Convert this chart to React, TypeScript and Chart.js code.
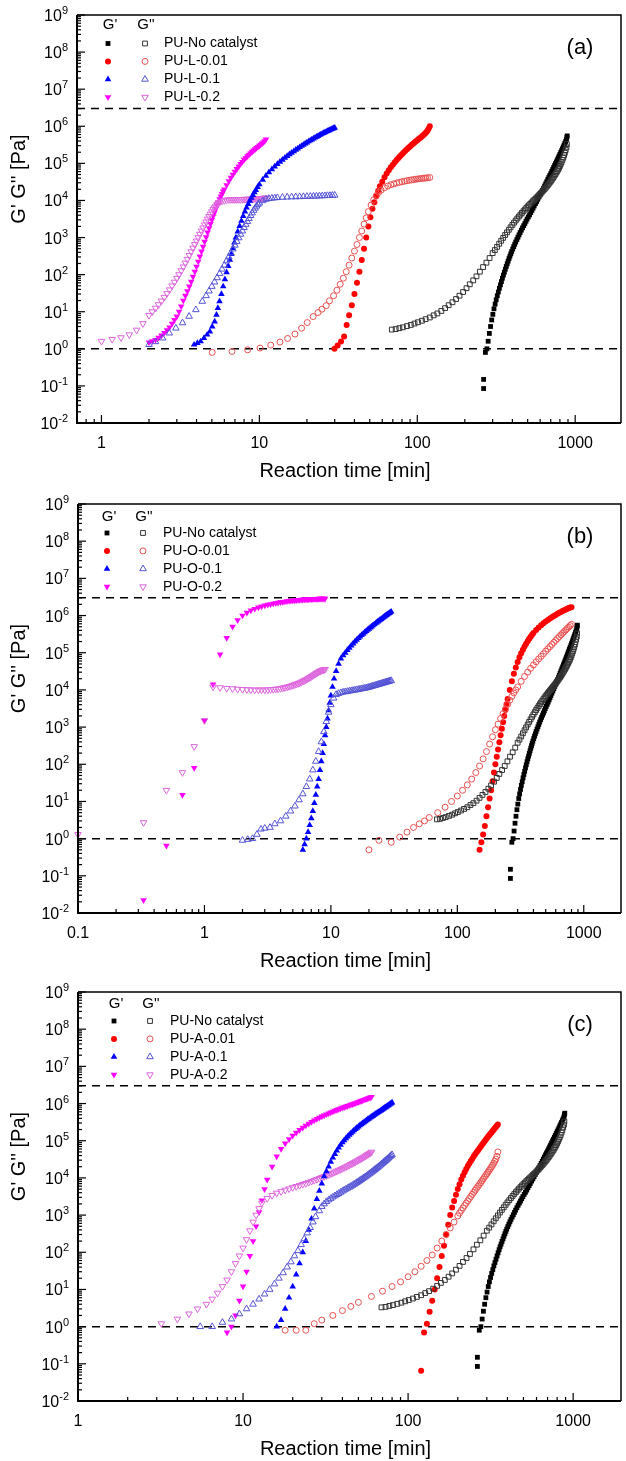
import React, { useEffect, useRef } from 'react';
import { Chart, registerables } from 'chart.js';
Chart.register(...registerables);

type P = [number, number];

const FONT = 'Arial, "Liberation Sans", sans-serif';

// ---------- shared reference series (no catalyst) ----------
const noCatGp: P[] = [[263,0.15],[263,0.085],[270,0.8],[276,1.0],[281,1.6],[286,2.6],[291,4],[296,6],[301,8.5],[306,12],[311,16],[316,21],[321,27],[326,34],[331,43],[336,53],[341,65],[346,80],[351,97],[356,117],[361,140],[366,166],[371,196],[376,230],[381,270],[386,315],[391,365],[396,420],[402,490],[408,570],[414,660],[420,760],[427,880],[434,1020],[441,1180],[448,1360],[456,1580],[464,1830],[472,2100],[480,2400],[488,2750],[496,3150],[505,3600],[514,4100],[523,4700],[532,5400],[541,6200],[550,7100],[560,8200],[570,9400],[580,10800],[590,12400],[600,14200],[610,16300],[620,18700],[630,21400],[640,24500],[650,28000],[660,32000],[670,36500],[680,41500],[690,47000],[700,53000],[710,60000],[720,68000],[730,77000],[740,87000],[750,98000],[760,110000],[770,124000],[780,139000],[790,156000],[800,175000],[810,196000],[820,220000],[830,247000],[840,277000],[850,310000],[860,347000],[870,390000],[880,440000],[885,500000],[890,550000]];
const noCatGpp: P[] = [[69,3.3],[73,3.4],[77,3.6],[81,3.8],[86,4.1],[91,4.4],[96,4.8],[101,5.2],[107,5.7],[113,6.3],[120,7],[127,8],[134,9],[142,10.5],[150,12.5],[158,15],[167,18],[176,22],[185,27],[195,34],[205,43],[215,55],[226,70],[237,90],[249,120],[261,160],[274,210],[287,280],[300,380],[310,460],[320,560],[330,680],[340,820],[350,980],[360,1170],[370,1380],[380,1620],[390,1890],[400,2190],[410,2520],[420,2880],[430,3270],[440,3690],[450,4140],[460,4620],[470,5130],[480,5670],[490,6240],[500,6840],[510,7470],[520,8130],[530,8820],[540,9550],[550,10300],[560,11100],[570,12000],[580,12900],[590,13900],[600,15000],[610,16200],[620,17500],[630,18900],[640,20400],[650,22000],[660,23800],[670,25800],[680,28000],[690,30400],[700,33000],[710,36000],[720,39300],[730,43000],[740,47000],[750,51500],[760,56500],[770,62000],[780,68500],[790,76000],[800,85000],[810,96000],[820,109000],[830,124000],[840,142000],[850,165000],[860,193000],[870,228000],[880,270000],[885,330000]];

// ---------- panel (a) ----------
const aRedGp: P[] = [[29.9,1.0],[31.3,1.23],[32.9,1.57],[34.4,2.15],[35.7,4.4],[37,8],[38.5,15],[40,30],[41.5,60],[43,120],[44.5,250],[46,500],[47.5,1000],[49,2000],[50.5,3500],[52,6000],[53.5,9000],[55,13000],[56.5,18000],[58,24000],[60,32000],[62,42000],[64,53000],[66,65000],[68,78000],[70,92000],[72,107000],[74,123000],[76,140000],[78,158000],[80,177000],[82,197000],[84,218000],[86,240000],[88,263000],[90,287000],[92,312000],[94,338000],[96,365000],[98,393000],[100,422000],[102,452000],[104,484000],[106,517000],[108,552000],[110,590000],[112,635000],[114,690000],[116,760000],[118,860000],[120,1000000]];
const aRedGpp: P[] = [[5.03,0.8],[6.71,0.85],[8.42,0.94],[10.1,1.05],[11.8,1.26],[13.5,1.52],[15.1,1.9],[16.8,2.5],[18.5,3.6],[20.1,5.1],[21.9,7.4],[23.5,9.5],[24.9,11.7],[26.5,14.6],[27.8,19.7],[29.5,27],[31,38],[32.5,55],[34,80],[35.5,120],[37,180],[38.5,280],[40,430],[41.5,650],[43,1000],[44.5,1500],[46,2300],[47.5,3400],[49,5000],[51,7500],[53,10500],[55,13500],[57,16500],[59,19000],[62,22000],[65,24500],[68,26500],[71,28000],[74,29500],[77,30800],[80,32000],[83,33000],[86,34000],[89,35000],[92,35800],[95,36600],[98,37300],[101,38000],[104,38600],[107,39200],[110,39800],[113,40300],[116,40800],[120,41500]];
const aBlueGp: P[] = [[3.86,1.29],[4.05,1.43],[4.25,1.58],[4.46,1.95],[4.67,2.4],[4.86,2.9],[5.03,4.0],[5.21,5.4],[5.35,8.3],[5.46,12.5],[5.59,19],[5.75,30],[5.9,48],[6.05,75],[6.2,115],[6.35,170],[6.5,250],[6.65,360],[6.8,520],[6.95,730],[7.1,1000],[7.3,1450],[7.5,2050],[7.7,2800],[7.9,3800],[8.1,5000],[8.3,6400],[8.5,8000],[8.7,9800],[8.9,11800],[9.1,14000],[9.3,16500],[9.5,19000],[9.75,23000],[10,27000],[10.5,36000],[11,46000],[11.5,57000],[12,69000],[12.5,82000],[13,96000],[13.5,110000],[14,125000],[14.5,141000],[15,158000],[15.5,175000],[16,193000],[16.5,212000],[17,232000],[17.5,252000],[18,273000],[18.5,295000],[19,318000],[19.5,341000],[20,365000],[20.5,390000],[21,415000],[21.5,440000],[22,466000],[22.5,492000],[23,519000],[23.5,546000],[24,574000],[24.5,602000],[25,630000],[25.5,658000],[26,686000],[26.5,714000],[27,742000],[27.5,770000],[28,798000],[28.5,826000],[29,853000],[29.5,880000],[30,905000]];
const aBlueGpp: P[] = [[2.0,1.3],[2.2,1.55],[2.44,1.95],[2.69,2.66],[2.96,3.6],[3.26,5],[3.59,7.5],[3.96,11.3],[4.35,19],[4.6,27],[4.8,36],[5.0,48],[5.2,63],[5.4,82],[5.6,107],[5.8,140],[6.0,180],[6.2,235],[6.4,300],[6.6,385],[6.8,490],[7.0,620],[7.2,780],[7.4,980],[7.6,1220],[7.8,1500],[8.0,1850],[8.2,2250],[8.4,2700],[8.6,3250],[8.8,3900],[9.0,4600],[9.2,5400],[9.4,6200],[9.6,7000],[9.8,7800],[10,8500],[10.5,9800],[11,10700],[11.5,11200],[12,11500],[12.5,11700],[13,11900],[14,12100],[15,12300],[16,12400],[17,12500],[18,12600],[19,12700],[20,12800],[21,12900],[22,13000],[23,13100],[24,13200],[25,13300],[26,13400],[27,13500],[28,13600],[29,13700],[30,13800]];
const aMagGp: P[] = [[2.0,1.5],[2.1,1.6],[2.2,1.75],[2.3,2],[2.4,2.3],[2.5,2.7],[2.6,3.2],[2.7,3.8],[2.8,4.8],[2.9,6],[3.0,7.5],[3.1,10],[3.2,14],[3.3,20],[3.4,27],[3.5,36],[3.6,48],[3.7,65],[3.8,88],[3.9,120],[4.0,165],[4.1,225],[4.2,310],[4.3,420],[4.4,570],[4.5,770],[4.6,1030],[4.7,1370],[4.8,1800],[4.9,2350],[5.0,3000],[5.1,3800],[5.2,4800],[5.3,6000],[5.4,7400],[5.5,9000],[5.6,10800],[5.7,12800],[5.8,15000],[5.9,17500],[6.0,20000],[6.2,26000],[6.4,33000],[6.6,41000],[6.8,50000],[7.0,60000],[7.2,71000],[7.4,83000],[7.6,96000],[7.8,110000],[8.0,125000],[8.2,140000],[8.4,156000],[8.6,172000],[8.8,189000],[9.0,206000],[9.2,224000],[9.4,242000],[9.6,261000],[9.8,280000],[10.0,300000],[10.2,322000],[10.4,345000],[10.6,370000],[10.8,400000],[11.0,440000]];
const aMagGpp: P[] = [[1.0,1.6],[1.17,1.8],[1.33,2.0],[1.5,2.4],[1.67,3.2],[1.83,4.8],[2.0,8],[2.1,10],[2.2,12.5],[2.3,15.5],[2.4,19.5],[2.5,24.5],[2.6,31],[2.7,39],[2.8,50],[2.9,63],[3.0,80],[3.1,100],[3.2,128],[3.3,162],[3.4,205],[3.5,260],[3.6,330],[3.7,415],[3.8,520],[3.9,650],[4.0,810],[4.1,1000],[4.2,1230],[4.3,1500],[4.4,1830],[4.5,2200],[4.6,2650],[4.7,3150],[4.8,3700],[4.9,4300],[5.0,5000],[5.1,5700],[5.2,6400],[5.3,7100],[5.4,7800],[5.5,8400],[5.6,8900],[5.8,9600],[6.0,10000],[6.2,10300],[6.4,10500],[6.6,10600],[6.8,10600],[7.0,10600],[7.2,10600],[7.4,10600],[7.6,10600],[7.8,10700],[8.0,10700],[8.2,10800],[8.4,10800],[8.6,10900],[8.8,10900],[9.0,11000],[9.2,11000],[9.4,11100],[9.6,11100],[9.8,11200],[10.0,11200],[10.2,11300],[10.4,11400],[10.6,11500],[10.8,11600],[11.0,11700]];

// ---------- panel (b) ----------
const bRedGp: P[] = [[150,0.5],[155,0.8],[160,1.3],[165,2.2],[170,4],[175,7],[180,12],[185,20],[190,35],[195,60],[200,100],[205,160],[210,250],[215,390],[220,600],[225,900],[230,1350],[235,2000],[240,2900],[245,4100],[250,5700],[260,10000],[270,17000],[280,27000],[290,40000],[300,56000],[310,75000],[320,97000],[330,120000],[340,146000],[350,174000],[360,204000],[370,236000],[380,270000],[390,305000],[400,340000],[420,410000],[440,480000],[460,550000],[480,620000],[500,690000],[520,760000],[540,830000],[560,900000],[580,970000],[600,1040000],[620,1110000],[640,1180000],[660,1250000],[680,1320000],[700,1390000],[720,1460000],[740,1530000],[760,1590000],[780,1640000],[800,1680000]];
const bRedGpp: P[] = [[20,0.5],[24,0.9],[30,0.8],[35,1.1],[40,1.5],[45,2],[50,2.5],[55,3],[60,3.7],[70,5],[80,7],[90,10],[100,14],[110,20],[120,28],[130,40],[140,60],[150,90],[160,140],[170,220],[180,350],[190,550],[200,850],[210,1200],[220,1700],[230,2300],[240,3100],[250,4100],[260,5300],[270,6700],[280,8300],[290,10000],[300,12000],[320,17000],[340,23000],[360,30000],[380,38000],[400,47000],[420,57000],[440,68000],[460,80000],[480,94000],[500,110000],[520,127000],[540,146000],[560,167000],[580,190000],[600,215000],[620,242000],[640,271000],[660,302000],[680,335000],[700,370000],[720,408000],[740,448000],[760,490000],[780,535000],[800,580000]];
const bBlueGp: P[] = [[6.0,0.5],[6.2,0.7],[6.4,1.0],[6.6,1.5],[6.8,2.3],[7.0,3.5],[7.2,5.5],[7.4,9],[7.6,15],[7.8,25],[8.0,40],[8.2,70],[8.4,120],[8.6,200],[8.8,350],[9.0,600],[9.2,1000],[9.4,1700],[9.6,2800],[9.8,4500],[10,7000],[10.3,12000],[10.6,20000],[11,32000],[11.5,50000],[12,70000],[12.5,85000],[13,100000],[13.5,118000],[14,136000],[14.5,156000],[15,177000],[15.5,199000],[16,222000],[16.5,246000],[17,271000],[17.5,297000],[18,324000],[18.5,352000],[19,381000],[19.5,411000],[20,442000],[20.5,474000],[21,507000],[21.5,541000],[22,576000],[22.5,612000],[23,649000],[23.5,687000],[24,726000],[24.5,766000],[25,807000],[25.5,849000],[26,892000],[26.5,936000],[27,981000],[27.5,1027000],[28,1074000],[28.5,1122000],[29,1171000],[29.5,1221000],[30,1270000]];
const bBlueGpp: P[] = [[2.0,0.9],[2.2,0.95],[2.4,1.0],[2.6,1.3],[2.8,1.8],[3.0,1.9],[3.3,2.0],[3.6,2.5],[4.0,3],[4.4,4],[4.8,5.5],[5.2,7.5],[5.6,11],[6.0,16],[6.4,25],[6.8,40],[7.2,70],[7.6,120],[8.0,220],[8.4,400],[8.8,750],[9.2,1400],[9.6,2500],[10,4000],[10.5,6000],[11,7500],[11.5,8000],[12,8400],[12.5,8700],[13,8900],[13.5,9100],[14,9300],[14.5,9500],[15,9700],[15.5,9900],[16,10100],[16.5,10300],[17,10500],[17.5,10700],[18,10900],[18.5,11100],[19,11300],[19.5,11500],[20,11800],[20.5,12100],[21,12400],[21.5,12700],[22,13000],[22.5,13300],[23,13600],[23.5,13900],[24,14200],[24.5,14500],[25,14800],[25.5,15100],[26,15400],[26.5,15700],[27,16000],[27.5,16300],[28,16600],[28.5,16900],[29,17200],[29.5,17500],[30,17800]];
const bMagGp: P[] = [[0.33,0.022],[0.5,0.65],[0.67,15],[0.83,80],[1.0,1500],[1.17,14000],[1.33,90000],[1.5,250000],[1.67,500000],[1.83,750000],[2.0,1000000],[2.17,1200000],[2.33,1370000],[2.5,1520000],[2.67,1650000],[2.83,1760000],[3.0,1860000],[3.17,1950000],[3.33,2030000],[3.5,2100000],[3.67,2170000],[3.83,2230000],[4.0,2280000],[4.17,2330000],[4.33,2380000],[4.5,2420000],[4.67,2460000],[4.83,2500000],[5.0,2530000],[5.17,2560000],[5.33,2590000],[5.5,2620000],[5.67,2640000],[5.83,2660000],[6.0,2680000],[6.17,2700000],[6.33,2720000],[6.5,2730000],[6.67,2750000],[6.83,2760000],[7.0,2770000],[7.17,2780000],[7.33,2790000],[7.5,2800000],[7.67,2810000],[7.83,2820000],[8.0,2830000],[8.17,2830000],[8.33,2840000],[8.5,2840000],[8.67,2850000],[8.83,2850000],[9.0,2850000]];
const bMagGpp: P[] = [[0.1,1.3],[0.33,2.7],[0.5,20],[0.67,60],[0.83,300],[1.0,1500],[1.17,12000],[1.33,11500],[1.5,11000],[1.67,10800],[1.83,10500],[2.0,10300],[2.17,10200],[2.33,10100],[2.5,10000],[2.67,10000],[2.83,10000],[3.0,10000],[3.17,10100],[3.33,10200],[3.5,10300],[3.67,10500],[3.83,10700],[4.0,11000],[4.17,11300],[4.33,11600],[4.5,12000],[4.67,12400],[4.83,12800],[5.0,13300],[5.17,13800],[5.33,14300],[5.5,14900],[5.67,15500],[5.83,16200],[6.0,17000],[6.17,17800],[6.33,18700],[6.5,19600],[6.67,20600],[6.83,21700],[7.0,22800],[7.17,24000],[7.33,25200],[7.5,26500],[7.67,27800],[7.83,29100],[8.0,30400],[8.17,31600],[8.33,32700],[8.5,33700],[8.67,34500],[8.83,35200],[9.0,35800]];

// ---------- panel (c) ----------
const cRedGp: P[] = [[120,0.065],[125,0.7],[130,1.2],[135,2.5],[140,5],[145,10],[150,20],[155,40],[160,80],[165,150],[170,300],[175,550],[180,1000],[185,1600],[190,2400],[195,3500],[200,5000],[205,6800],[210,9000],[215,11500],[220,14300],[225,17400],[230,20800],[235,24500],[240,28500],[245,33000],[250,38000],[255,43000],[260,49000],[265,55000],[270,62000],[275,69000],[280,77000],[285,86000],[290,95000],[295,105000],[300,116000],[305,128000],[310,140000],[315,153000],[320,167000],[325,182000],[330,198000],[335,215000],[340,233000],[345,252000],[350,272000]];
const cRedGpp: P[] = [[18,0.8],[21,0.8],[24,0.8],[27,1.2],[30,1.5],[35,2],[40,2.7],[45,3.5],[50,4.5],[60,6.5],[70,9],[80,12],[90,16],[100,22],[110,30],[120,42],[130,60],[140,85],[150,130],[160,200],[170,300],[180,450],[190,650],[200,950],[205,1130],[210,1330],[215,1560],[220,1820],[225,2100],[230,2420],[235,2780],[240,3180],[245,3620],[250,4100],[255,4650],[260,5250],[265,5900],[270,6600],[275,7400],[280,8300],[285,9300],[290,10400],[295,11600],[300,12900],[305,14300],[310,15900],[315,17700],[320,19700],[325,22000],[330,24700],[335,28000],[340,32000],[345,38000],[350,50000]];
const cBlueGp: P[] = [[16,1.0],[17,1.5],[18,3],[19,6],[20,12],[21,25],[22,50],[23,100],[24,200],[25,400],[26,800],[27,1500],[28,2700],[29,4500],[30,7000],[31,11000],[32,15000],[33,20000],[34,27000],[35,35000],[36,44000],[37,54000],[38,65000],[39,77000],[40,90000],[41,103000],[42,116000],[43,130000],[44,144000],[45,159000],[46,174000],[47,190000],[48,206000],[49,223000],[50,240000],[51,258000],[52,276000],[53,295000],[54,314000],[55,334000],[56,354000],[57,375000],[58,396000],[59,418000],[60,440000],[61,463000],[62,486000],[63,510000],[64,535000],[65,560000],[66,586000],[67,613000],[68,641000],[69,670000],[70,700000],[71,731000],[72,763000],[73,796000],[74,830000],[75,865000],[76,900000],[77,940000],[78,980000],[79,1020000],[80,1060000]];
const cBlueGpp: P[] = [[5.5,1.0],[6.5,1.0],[7.5,1.3],[8.5,1.6],[9.5,2.2],[10.5,3],[11.5,4],[12.5,5.5],[13.5,7.5],[14.5,10],[15.5,14],[16.5,20],[17.5,28],[18.5,40],[19.5,55],[20.5,80],[21.5,110],[22.5,160],[23.5,230],[24.5,330],[25.5,460],[26.5,650],[27.5,900],[29,1300],[30,1700],[31,2000],[32,2300],[33,2550],[34,2800],[35,3050],[36,3300],[37,3550],[38,3800],[39,4100],[40,4400],[41,4700],[42,5000],[43,5300],[44,5600],[45,5950],[46,6300],[47,6700],[48,7100],[49,7550],[50,8000],[51,8500],[52,9000],[53,9550],[54,10100],[55,10700],[56,11300],[57,12000],[58,12700],[59,13400],[60,14200],[61,15000],[62,15900],[63,16800],[64,17800],[65,18800],[66,19900],[67,21000],[68,22200],[69,23500],[70,24800],[71,26200],[72,27700],[73,29200],[74,30800],[75,32500],[76,34300],[77,36200],[78,38100],[79,40100],[80,42000]];
const cMagGp: P[] = [[8,0.7],[8.5,1],[9,2],[9.5,5],[10,12],[10.5,30],[11,80],[11.5,200],[12,500],[12.5,1200],[13,2500],[13.5,5000],[14,9000],[15,20000],[16,38000],[17,60000],[18,85000],[19,110000],[20,137000],[21,165000],[22,195000],[23,225000],[24,256000],[25,288000],[26,320000],[27,352000],[28,385000],[29,418000],[30,450000],[31,482000],[32,514000],[33,546000],[34,578000],[35,610000],[36,642000],[37,674000],[38,706000],[39,738000],[40,770000],[41,802000],[42,834000],[43,866000],[44,898000],[45,930000],[46,962000],[47,994000],[48,1030000],[49,1065000],[50,1100000],[51,1140000],[52,1180000],[53,1220000],[54,1260000],[55,1300000],[56,1340000],[57,1380000],[58,1420000],[59,1460000],[60,1500000]];
const cMagGpp: P[] = [[3.2,1.2],[4,1.6],[4.7,2.2],[5.3,3],[6,4],[6.5,5.5],[7,8],[7.5,12],[8,18],[8.5,30],[9,50],[9.5,80],[10,130],[10.5,220],[11,380],[11.5,650],[12,1000],[12.5,1500],[13,2100],[14,2800],[15,3400],[16,3900],[17,4300],[18,4700],[19,5100],[20,5500],[21,5900],[22,6300],[23,6700],[24,7100],[25,7600],[26,8100],[27,8600],[28,9100],[29,9700],[30,10300],[31,10900],[32,11500],[33,12200],[34,12900],[35,13600],[36,14400],[37,15200],[38,16000],[39,16900],[40,17800],[41,18800],[42,19800],[43,20900],[44,22000],[45,23200],[46,24400],[47,25700],[48,27000],[49,28400],[50,29900],[51,31400],[52,33000],[53,34700],[54,36500],[55,38400],[56,40400],[57,42500],[58,44700],[59,47000],[60,49500]];

// ---------- axes / labels ----------
const xTicksA = [1, 10, 100, 1000];
const xTicksB = [0.1, 1, 10, 100, 1000];
const xTicksC = [1, 10, 100, 1000];
const xTickLabelsA = ['1', '10', '100', '1000'];
const xTickLabelsB = ['0.1', '1', '10', '100', '1000'];
const xTickLabelsC = ['1', '10', '100', '1000'];
const yExponents = [-2, -1, 0, 1, 2, 3, 4, 5, 6, 7, 8, 9];
const refLines = [3e6, 1];
const legendA = ['PU-No catalyst', 'PU-L-0.01', 'PU-L-0.1', 'PU-L-0.2'];
const legendB = ['PU-No catalyst', 'PU-O-0.01', 'PU-O-0.1', 'PU-O-0.2'];
const legendC = ['PU-No catalyst', 'PU-A-0.01', 'PU-A-0.1', 'PU-A-0.2'];
const xTitle = 'Reaction time [min]';
const yTitle = "G' G'' [Pa]";

// styles per sample kind: 0 none,1 0.01,2 0.1,3 0.2
const FILL = ['#000000', '#ff0000', '#0000ff', '#ff00ff'];
const OPEN = ['#333333', '#e85050', '#5555d5', '#dd66dd'];
const SHAPE = ['rect', 'circle', 'triangle', 'triangle'];
const ROT = [0, 0, 0, 180];
const RAD = [3.4, 3.0, 3.8, 3.8];

interface Panel {
  top: number; height: number; padTop: number; yWidth: number; xHeight: number;
  xMin: number; xMax: number; xTicks: number[]; xLabels: string[];
  letter: string; letterX: number; letterY: number;
  legend: string[]; legX1: number; legX2: number; legTextX: number; legHeadY: number; legRow0: number;
  series: [P[], P[]][];
}

const panels: Panel[] = [
  { top: 0, height: 487, padTop: 15, yWidth: 77, xHeight: 64, xMin: 0.7, xMax: 1950, xTicks: xTicksA, xLabels: xTickLabelsA,
    letter: '(a)', letterX: 580, letterY: 46, legend: legendA, legX1: 108, legX2: 145, legTextX: 164, legHeadY: 25, legRow0: 43.5,
    series: [[noCatGp, noCatGpp], [aRedGp, aRedGpp], [aBlueGp, aBlueGpp], [aMagGp, aMagGpp]] },
  { top: 487, height: 487, padTop: 17, yWidth: 78, xHeight: 61, xMin: 0.1, xMax: 1970, xTicks: xTicksB, xLabels: xTickLabelsB,
    letter: '(b)', letterX: 580, letterY: 46, legend: legendB, legX1: 107, legX2: 143, legTextX: 163, legHeadY: 27.5, legRow0: 44,
    series: [[noCatGp, noCatGpp], [bRedGp, bRedGpp], [bBlueGp, bBlueGpp], [bMagGp, bMagGpp]] },
  { top: 974, height: 487, padTop: 18, yWidth: 78, xHeight: 60, xMin: 1, xMax: 1950, xTicks: xTicksC, xLabels: xTickLabelsC,
    letter: '(c)', letterX: 580, letterY: 46, legend: legendC, legX1: 114, legX2: 150, legTextX: 170, legHeadY: 26.5, legRow0: 44,
    series: [[noCatGp, noCatGpp], [cRedGp, cRedGpp], [cBlueGp, cBlueGpp], [cMagGp, cMagGpp]] },
];

function drawMarker(ctx: CanvasRenderingContext2D, kind: number, filled: boolean, x: number, y: number) {
  const col = filled ? FILL[kind] : OPEN[kind];
  ctx.save();
  ctx.fillStyle = col; ctx.strokeStyle = col; ctx.lineWidth = 1;
  const r = RAD[kind];
  ctx.beginPath();
  if (kind === 0) {
    const s = r * Math.SQRT1_2;
    ctx.rect(x - s, y - s, 2 * s, 2 * s);
  } else if (kind === 1) {
    ctx.arc(x, y, r, 0, Math.PI * 2);
  } else {
    const dir = kind === 3 ? -1 : 1;
    ctx.moveTo(x, y - dir * r);
    ctx.lineTo(x - r * 0.866, y + dir * r * 0.5);
    ctx.lineTo(x + r * 0.866, y + dir * r * 0.5);
    ctx.closePath();
  }
  if (filled) ctx.fill(); else ctx.stroke();
  ctx.restore();
}

function makePlugin(p: Panel) {
  return {
    id: 'deco',
    beforeDatasetsDraw(chart: any) {
      const { ctx, chartArea: a, scales } = chart;
      ctx.save();
      ctx.strokeStyle = '#000'; ctx.lineWidth = 1.5; ctx.setLineDash([8, 6]);
      for (const v of refLines) {
        const py = scales.y.getPixelForValue(v);
        ctx.beginPath(); ctx.moveTo(a.left, py); ctx.lineTo(a.right, py); ctx.stroke();
      }
      ctx.restore();
    },
    afterDatasetsDraw(chart: any) {
      const { ctx, chartArea: a, scales } = chart;
      const xs = scales.x, ys = scales.y;
      ctx.save();
      ctx.strokeStyle = '#000';
      ctx.lineWidth = 2;
      ctx.beginPath(); ctx.moveTo(a.left, a.top); ctx.lineTo(a.left, a.bottom); ctx.lineTo(a.right, a.bottom); ctx.stroke();
      ctx.lineWidth = 1.5;
      ctx.beginPath(); ctx.moveTo(a.left, a.top); ctx.lineTo(a.right, a.top); ctx.lineTo(a.right, a.bottom); ctx.stroke();
      ctx.lineWidth = 1.2;
      const dx0 = Math.floor(Math.log10(p.xMin)), dx1 = Math.ceil(Math.log10(p.xMax));
      for (let d = dx0; d <= dx1; d++) {
        for (let m = 1; m <= 9; m++) {
          const v = m * Math.pow(10, d);
          if (v < p.xMin * 0.999 || v > p.xMax) continue;
          const px = xs.getPixelForValue(v);
          const len = m === 1 ? 8 : 4;
          ctx.beginPath(); ctx.moveTo(px, a.bottom); ctx.lineTo(px, a.bottom - len); ctx.stroke();
        }
      }
      for (let e = -2; e <= 9; e++) {
        for (let m = 1; m <= 9; m++) {
          const v = m * Math.pow(10, e);
          if (v > 1e9 * 1.001) continue;
          const py = ys.getPixelForValue(v);
          const len = m === 1 ? 8 : 4;
          ctx.beginPath(); ctx.moveTo(a.left, py); ctx.lineTo(a.left + len, py); ctx.stroke();
        }
      }
      ctx.fillStyle = '#000';
      ctx.font = `16px ${FONT}`; ctx.textAlign = 'center'; ctx.textBaseline = 'alphabetic';
      p.xTicks.forEach((v, i) => {
        ctx.fillText(p.xLabels[i], xs.getPixelForValue(v), a.bottom + 25);
      });
      for (const e of yExponents) {
        const py = ys.getPixelForValue(Math.pow(10, e));
        const ex = String(e);
        ctx.font = `11px ${FONT}`;
        const ew = ctx.measureText(ex).width;
        const xr = a.left - 9;
        ctx.textAlign = 'left';
        ctx.fillText(ex, xr - ew, py - 1);
        ctx.font = `16px ${FONT}`;
        ctx.textAlign = 'right';
        ctx.fillText('10', xr - ew, py + 6);
      }
      ctx.font = `20px ${FONT}`; ctx.textAlign = 'center';
      ctx.fillText(xTitle, (a.left + a.right) / 2 - 4, a.bottom + 54);
      ctx.save();
      ctx.translate(25, (a.top + a.bottom) / 2 - 40);
      ctx.rotate(-Math.PI / 2);
      ctx.fillText(yTitle, 0, 0);
      ctx.restore();
      ctx.font = `22px ${FONT}`; ctx.textAlign = 'center';
      ctx.fillText(p.letter, p.letterX, a.top + p.letterY - 15 + 8);
      ctx.font = `15px ${FONT}`; ctx.textAlign = 'center'; ctx.textBaseline = 'middle';
      ctx.fillText("G'", p.legX1 + 2, a.top + p.legHeadY - 15);
      ctx.fillText("G''", p.legX2 + 1, a.top + p.legHeadY - 15);
      ctx.font = `14px ${FONT}`; ctx.textAlign = 'left';
      p.legend.forEach((name, k) => {
        const yy = a.top + p.legRow0 - 15 + k * 17.9;
        drawMarker(ctx, k, true, p.legX1, yy);
        drawMarker(ctx, k, false, p.legX2, yy);
        ctx.fillText(name, p.legTextX, yy);
      });
      ctx.restore();
    },
  };
}

function PanelChart({ p }: { p: Panel }) {
  const ref = useRef<HTMLCanvasElement>(null);
  useEffect(() => {
    if (!ref.current) return;
    const datasets: any[] = [];
    p.series.forEach(([gp, gpp], k) => {
      datasets.push({
        label: p.legend[k] + " G''",
        data: gpp.map(([x, y]) => ({ x, y })),
        pointStyle: SHAPE[k], rotation: ROT[k], pointRadius: RAD[k],
        backgroundColor: 'rgba(0,0,0,0)', borderColor: OPEN[k], borderWidth: 1,
        showLine: false, clip: false,
      });
      datasets.push({
        label: p.legend[k] + " G'",
        data: gp.map(([x, y]) => ({ x, y })),
        pointStyle: SHAPE[k], rotation: ROT[k], pointRadius: RAD[k],
        backgroundColor: FILL[k], borderColor: FILL[k], borderWidth: 0,
        showLine: false, clip: false,
      });
    });
    const chart = new Chart(ref.current, {
      type: 'scatter',
      data: { datasets },
      options: {
        animation: false, responsive: false, maintainAspectRatio: false, devicePixelRatio: 1,
        layout: { padding: { top: p.padTop, right: 0, left: 0, bottom: 0 } },
        plugins: { legend: { display: false }, tooltip: { enabled: false } },
        scales: {
          x: {
            type: 'logarithmic', min: p.xMin, max: p.xMax,
            ticks: { display: false }, grid: { display: false }, border: { display: false },
            afterFit: (s: any) => { s.height = p.xHeight; },
          },
          y: {
            type: 'logarithmic', min: 1e-2, max: 1e9,
            ticks: { display: false }, grid: { display: false }, border: { display: false },
            afterFit: (s: any) => { s.width = p.yWidth; },
          },
        },
      } as any,
      plugins: [makePlugin(p)],
    });
    return () => chart.destroy();
  }, [p]);
  return (
    <canvas ref={ref} width={626} height={p.height}
      style={{ position: 'absolute', left: 0, top: p.top, width: 626, height: p.height }} />
  );
}

export default function App() {
  return (
    <div style={{ position: 'absolute', left: 0, top: 0, width: 626, height: 1461, background: '#fff', overflow: 'hidden' }}>
      {panels.map((p, i) => <PanelChart key={i} p={p} />)}
    </div>
  );
}
